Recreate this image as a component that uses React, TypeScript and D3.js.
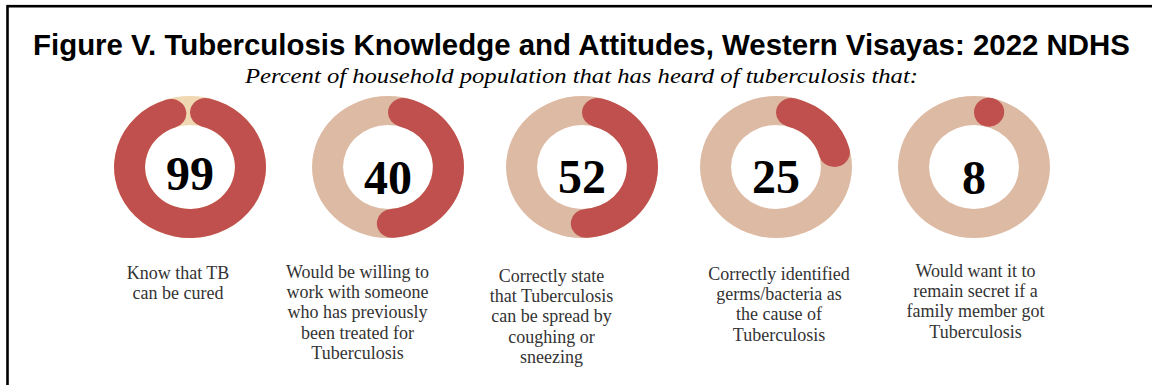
import React from "react";
import * as d3 from "d3";

const TITLE = "Figure V. Tuberculosis Knowledge and Attitudes, Western Visayas: 2022 NDHS";
const SUBTITLE = "Percent of household population that has heard of tuberculosis that:";

// printed percentages
const values = [99, 40, 52, 25, 8];
// share of the ring filled in red, as drawn in the picture
const arcShares = [99, 53, 53, 25, 8];
const labels = [
  ["Know that TB", "can be cured"],
  ["Would be willing to", "work with someone", "who has previously", "been treated for", "Tuberculosis"],
  ["Correctly state", "that Tuberculosis", "can be spread by", "coughing or", "sneezing"],
  ["Correctly identified", "germs/bacteria as", "the cause of", "Tuberculosis"],
  ["Would want it to", "remain secret if a", "family member got", "Tuberculosis"],
];

// layout (not data)
const W = 1152;
const H = 385;
const donutCx = [190, 388, 582, 776, 974];
const donutCy = 167;
const outerR = 71;
const innerR = 42;
const xStretch = 1.07;
const numberY = [190, 194, 193, 193, 194];
const labelCx = [178, 357.5, 551.5, 779, 975.5];
const labelY0 = [279, 278, 282, 280, 277];
const lineH = 20.2;
const trackColors = ["#F0D8B2", "#DDBAA3", "#DDBAA3", "#DDBAA3", "#DDBAA3"];
const RED = "#C0504D";

export default function App() {
  const pct = d3.scaleLinear().domain([0, 100]).range([0, 2 * Math.PI]);
  const track = d3.arc<any>().innerRadius(innerR).outerRadius(outerR).startAngle(0).endAngle(2 * Math.PI);
  const valArc = d3
    .arc<number>()
    .innerRadius(innerR)
    .outerRadius(outerR)
    .cornerRadius((outerR - innerR) / 2)
    .startAngle(0)
    .endAngle((d) => pct(d));

  return (
    <svg
      width={W}
      height={H}
      style={{ position: "absolute", left: 0, top: 0, background: "#fff" }}
    >
      <rect x={0} y={0} width={W} height={H} fill="#fff" />
      <rect x={7.5} y={6.2} width={W + 20} height={H + 20} fill="none" stroke="#000" strokeWidth={2.6} />
      <text
        x={581.5}
        y={55}
        textAnchor="middle"
        fontFamily="Liberation Sans, Arial, sans-serif"
        fontWeight="bold"
        fontSize={29}
        textLength={1097}
        lengthAdjust="spacingAndGlyphs"
        fill="#000"
      >
        {TITLE}
      </text>
      <text
        x={581.5}
        y={83}
        textAnchor="middle"
        fontFamily="Liberation Serif, serif"
        fontStyle="italic"
        fontSize={22}
        textLength={673}
        lengthAdjust="spacingAndGlyphs"
        fill="#000"
      >
        {SUBTITLE}
      </text>
      {values.map((v, i) => (
        <g key={i}>
          <g transform={`translate(${donutCx[i]},${donutCy}) scale(${xStretch},1)`}>
            <path d={track(null) as string} fill={trackColors[i]} />
            <path d={valArc(arcShares[i]) as string} fill={RED} />
          </g>
          <text
            x={donutCx[i]}
            y={numberY[i]}
            textAnchor="middle"
            fontFamily="Liberation Serif, serif"
            fontWeight="bold"
            fontSize={48}
            fill="#000"
          >
            {v}
          </text>
          <text
            textAnchor="middle"
            fontFamily="Liberation Serif, serif"
            fontSize={18}
            fill="#333"
          >
            {labels[i].map((line, j) => (
              <tspan key={j} x={labelCx[i]} y={labelY0[i] + j * lineH}>
                {line}
              </tspan>
            ))}
          </text>
        </g>
      ))}
    </svg>
  );
}
